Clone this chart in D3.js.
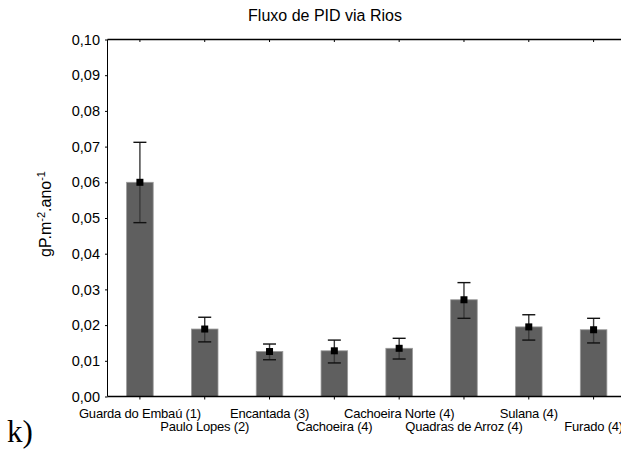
<!DOCTYPE html>
<html>
<head>
<meta charset="utf-8">
<script src="https://cdn.jsdelivr.net/npm/d3@7"></script>
<style>
html,body{margin:0;padding:0;background:#fff;}
svg{display:block;}
</style>
</head>
<body>
<svg id="chart" width="621" height="455" font-family="Arial, 'Liberation Sans', sans-serif"></svg>
<script>
const categories = ["Guarda do Embaú (1)","Paulo Lopes (2)","Encantada (3)","Cachoeira (4)","Cachoeira Norte (4)","Quadras de Arroz (4)","Sulana (4)","Furado (4)"];
const means = [0.0600, 0.0189, 0.0126, 0.0128, 0.0135, 0.0271, 0.0195, 0.0187];
const errLow = [0.0487, 0.0153, 0.0103, 0.0094, 0.0105, 0.0219, 0.0158, 0.0150];
const errHigh = [0.0712, 0.0222, 0.0147, 0.0158, 0.0163, 0.0319, 0.0229, 0.0219];
const yTicks = [0,0.01,0.02,0.03,0.04,0.05,0.06,0.07,0.08,0.09,0.10];

const svg = d3.select("#chart");
const pLeft = 107.5, pRight = 626, pTop = 39.5, pBottom = 396.5;
const sans = "Arial, 'Liberation Sans', sans-serif";

const x = d3.scaleBand().domain(categories).range([pLeft, pRight]).paddingInner(0.59).paddingOuter(0.295);
const y = d3.scaleLinear().domain([0, 0.10]).range([pBottom, pTop]);
const fmt = v => d3.format(".2f")(v).replace(".", ",");

// bars
svg.append("g").selectAll("rect").data(categories).join("rect")
  .attr("x", d => x(d)).attr("width", x.bandwidth())
  .attr("y", (d,i) => y(means[i])).attr("height", (d,i) => pBottom - y(means[i]))
  .attr("fill", "#5f5f5f").attr("stroke", "#9a9a9a").attr("stroke-width", 0.8);

// error bars
const eb = svg.append("g");
categories.forEach((c,i) => {
  const cx = x(c) + x.bandwidth()/2;
  eb.append("line").attr("x1", cx).attr("x2", cx).attr("y1", y(errLow[i])).attr("y2", y(errHigh[i]))
    .attr("stroke", "#3a3a3a").attr("stroke-width", 1.4);
  [errLow[i], errHigh[i]].forEach(v => {
    eb.append("line").attr("x1", cx-6.5).attr("x2", cx+6.5).attr("y1", y(v)).attr("y2", y(v))
      .attr("stroke", "#111").attr("stroke-width", 1.4);
  });
  eb.append("rect").attr("x", cx-3.5).attr("y", y(means[i])-3.5).attr("width", 7).attr("height", 7).attr("fill", "#000");
});

// axes
const yAxis = d3.axisLeft(y).tickValues(yTicks).tickFormat(fmt).tickSize(2.5).tickPadding(5);
const gy = svg.append("g").attr("transform", `translate(${pLeft},0)`).call(yAxis);
gy.select(".domain").remove();
gy.selectAll("text").attr("font-size", 14.5).attr("font-family", sans).attr("fill", "#000");
gy.selectAll("line").attr("stroke", "#000");

const xAxisB = d3.axisBottom(x).tickSize(3).tickFormat("");
const gxb = svg.append("g").attr("transform", `translate(0,${pBottom})`).call(xAxisB);
gxb.select(".domain").remove();
gxb.selectAll("line").attr("stroke", "#000");

const xAxisT = d3.axisBottom(x).tickSize(2.5).tickFormat("");
const gxt = svg.append("g").attr("transform", `translate(0,${pTop})`).call(xAxisT);
gxt.select(".domain").remove();
gxt.selectAll("line").attr("stroke", "#000");

// frame lines
svg.append("line").attr("x1", pLeft).attr("x2", pLeft).attr("y1", pTop).attr("y2", pBottom).attr("stroke", "#000");
svg.append("line").attr("x1", pLeft).attr("x2", 621).attr("y1", pBottom).attr("y2", pBottom).attr("stroke", "#000").attr("stroke-width", 1.3);
svg.append("line").attr("x1", pLeft).attr("x2", 621).attr("y1", pTop).attr("y2", pTop).attr("stroke", "#000").attr("stroke-width", 1.3);

// x labels (staggered)
svg.append("g").selectAll("text").data(categories).join("text")
  .attr("x", d => x(d) + x.bandwidth()/2)
  .attr("y", (d,i) => i % 2 === 0 ? 417.5 : 430.5)
  .attr("text-anchor", "middle").attr("font-size", 13).attr("letter-spacing", -0.2)
  .attr("font-family", sans).attr("fill", "#000").text(d => d);

// title
svg.append("text").attr("x", 325).attr("y", 21).attr("text-anchor", "middle")
  .attr("font-size", 16).attr("font-family", sans).attr("fill", "#000").text("Fluxo de PID via Rios");

// y label
const yl = svg.append("text").attr("transform", "translate(51,214) rotate(-90)")
  .attr("text-anchor", "middle").attr("font-size", 16).attr("font-family", sans).attr("fill", "#000");
yl.append("tspan").text("gP.m");
yl.append("tspan").attr("dy", -6).attr("font-size", 11).text("-2");
yl.append("tspan").attr("dy", 6).text(".ano");
yl.append("tspan").attr("dy", -6).attr("font-size", 11).text("-1");

// panel letter
svg.append("text").attr("x", 7).attr("y", 442).attr("font-family", "'Liberation Serif','Times New Roman',serif")
  .attr("font-size", 31).attr("fill", "#000").text("k)");
</script>
</body>
</html>
